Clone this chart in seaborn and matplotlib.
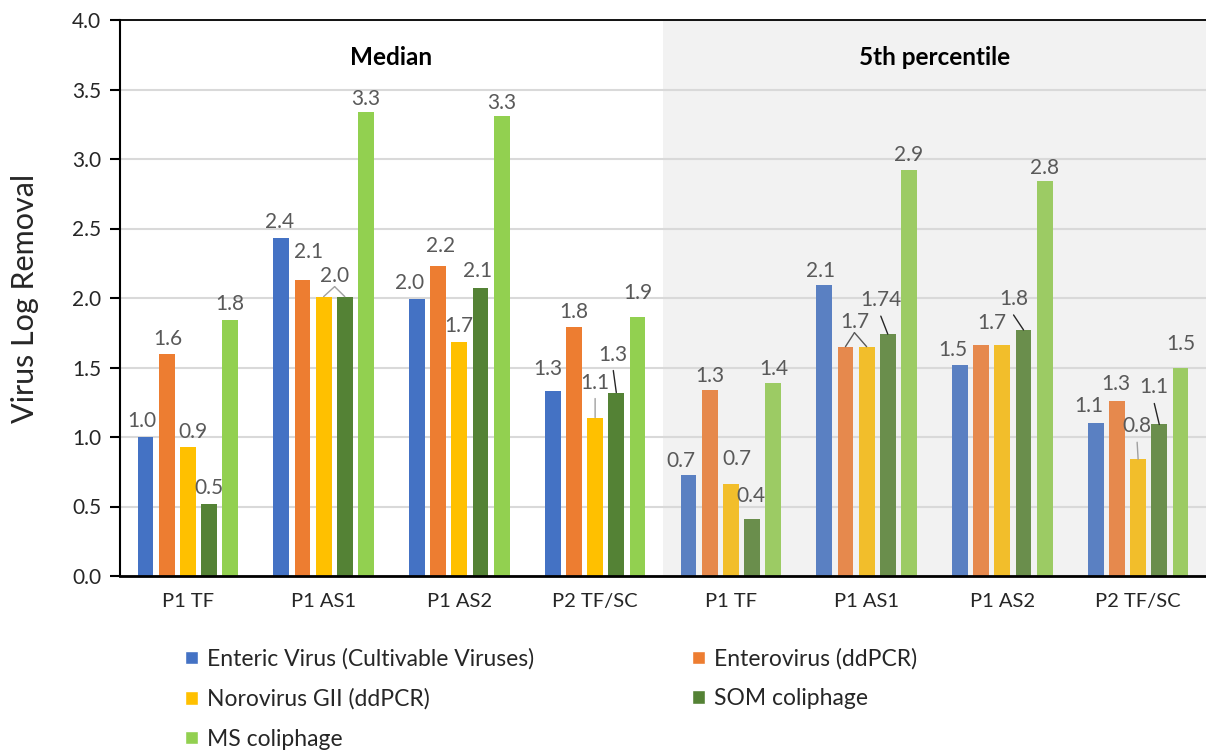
import numpy as np
import pandas as pd
import matplotlib
matplotlib.use("Agg")
import matplotlib.pyplot as plt
import seaborn as sns
from matplotlib.patches import Patch
from matplotlib.transforms import offset_copy

# Data
sites = ["P1 TF", "P1 AS1", "P1 AS2", "P2 TF/SC"]
panels = ["Median", "5th percentile"]

viruses = [
    "Enteric Virus (Cultivable Viruses)",
    "Enterovirus (ddPCR)",
    "Norovirus GII (ddPCR)",
    "SOM coliphage",
    "MS coliphage",
]

# first 4 = Median, last 4 = 5th percentile
enteric = [1.00, 2.43, 1.99, 1.33, 0.73, 2.09, 1.52, 1.10]
entero = [1.60, 2.13, 2.23, 1.79, 1.34, 1.65, 1.66, 1.26]
noro = [0.93, 2.01, 1.68, 1.14, 0.66, 1.65, 1.66, 0.84]
som = [0.52, 2.01, 2.07, 1.32, 0.41, 1.74, 1.77, 1.09]
ms = [1.84, 3.34, 3.31, 1.86, 1.39, 2.92, 2.84, 1.50]

enteric_lbl = ["1.0", "2.4", "2.0", "1.3", "0.7", "2.1", "1.5", "1.1"]
entero_lbl = ["1.6", "2.1", "2.2", "1.8", "1.3", "1.7", "1.7", "1.3"]
noro_lbl = ["0.9", "2.0", "1.7", "1.1", "0.7", "", "", "0.8"]
som_lbl = ["0.5", "", "2.1", "1.3", "0.4", "1.74", "1.8", "1.1"]
ms_lbl = ["1.8", "3.3", "3.3", "1.9", "1.4", "2.9", "2.8", "1.5"]

colors_median = ["#4472C4", "#ED7D31", "#FFC000", "#548235", "#92D050"]
colors_5th = ["#5A80C2", "#E6894D", "#F2BE2B", "#6A8E4C", "#9CCB64"]

# label offsets in pixels (dx, dy) of the text baseline from the bar top
offsets = [
    [(-4, 10), (-2, 10), (-7, 10), (-5, 16), (-8, 8), (-4, 8), (-7, 9), (-7, 11)],
    [(1, 9), (6, 22), (2, 14), (0, 9), (0, 8), (9, 19), (11, 16), (-1, 11)],
    [(5, 9), (11, 15), (-1, 10), (0, 29), (6, 19), (0, 0), (0, 0), (-1, 27)],
    [(0, 10), (0, 0), (-3, 11), (-3, 32), (-1, 17), (-7, 28), (-10, 25), (-5, 31)],
    [(0, 10), (0, 7), (0, 7), (0, 18), (1, 8), (0, 9), (0, 7), (0, 18)],
]
leaders = {
    (1, 5): "caret", (2, 1): "caret",
    (2, 3): "line", (2, 7): "line",
    (3, 3): "line", (3, 5): "line", (3, 6): "line", (3, 7): "line",
}
leader_colors = ["#595959", "#595959", "#A0A0A0", "#262626", "#595959"]

slots = [p + "|" + s for p in panels for s in sites]
values = [enteric, entero, noro, som, ms]
labels = [enteric_lbl, entero_lbl, noro_lbl, som_lbl, ms_lbl]

rows = []
for v, vals in zip(viruses, values):
    for slot, val in zip(slots, vals):
        rows.append({"slot": slot, "virus": v, "value": val})
df = pd.DataFrame(rows)

sns.set_style("white")
plt.rcParams["font.family"] = ["Lato", "DejaVu Sans"]

fig = plt.figure(figsize=(12.06, 7.56), dpi=100)
ax = fig.add_axes([120 / 1206, 1 - 576 / 756, 1086 / 1206, 556 / 756])

sns.barplot(
    data=df,
    x="slot",
    y="value",
    hue="virus",
    order=slots,
    hue_order=viruses,
    palette=colors_median,
    saturation=1,
    errorbar=None,
    width=0.78,
    gap=0.25,
    linewidth=0,
    legend=False,
    ax=ax,
)

# muted colours for the 5th percentile half
for cont, c5 in zip(ax.containers, colors_5th):
    for i, bar in enumerate(cont):
        if i >= 4:
            bar.set_facecolor(c5)

ax.axvspan(3.5, 7.5, color="#F2F2F2", zorder=0, lw=0)
ax.set_xlim(-0.5, 7.5)
ax.set_ylim(0, 4)
yt = np.arange(0, 4.01, 0.5)
ax.set_yticks(yt)
ax.set_yticklabels([f"{t:.1f}" for t in yt])
ax.set_xticks(range(8))
ax.set_xticklabels(sites * 2)
ax.set_xlabel("")
ax.set_ylabel("Virus Log Removal", fontsize=22, color="#262626")
ax.yaxis.set_label_coords(-0.075, 0.5)

ax.set_axisbelow(True)
ax.yaxis.grid(True, color="#D9D9D9", lw=1.5)
ax.xaxis.grid(False)
ax.tick_params(axis="y", direction="out", length=7.5, width=1.5, color="black",
               labelsize=15, labelcolor="#262626", pad=6, left=True)
ax.tick_params(axis="x", length=0, labelsize=14.5, labelcolor="#262626", pad=12)

for side in ["left", "bottom", "top"]:
    ax.spines[side].set_visible(True)
    ax.spines[side].set_color("black")
ax.spines["left"].set_linewidth(1.5)
ax.spines["bottom"].set_linewidth(2)
ax.spines["top"].set_linewidth(1.3)
ax.spines["right"].set_visible(False)

# panel titles
for k, p in enumerate(panels):
    ax.text(1.5 + 4 * k, 0.932, p, transform=ax.get_xaxis_transform(),
            ha="center", va="center", fontsize=17.5, fontweight="bold", color="black")

# data labels and leader lines
for s, cont in enumerate(ax.containers):
    for i, bar in enumerate(cont):
        text = labels[s][i]
        if not text:
            continue
        x = bar.get_x() + bar.get_width() / 2
        y = bar.get_height()
        dx, dy = offsets[s][i]
        ax.annotate(text, (x, y), xytext=(dx, dy), textcoords="offset pixels",
                    ha="center", va="baseline", fontsize=15, color="#595959")
        kind = leaders.get((s, i))
        if not kind:
            continue
        targets = [bar]
        gap = 10
        if kind == "caret":
            targets.append(ax.containers[s + 1][i])
            gap = 5
        start = offset_copy(ax.transData, fig=fig, x=dx, y=dy - gap, units="dots")
        for tb in targets:
            ax.annotate("", (tb.get_x() + tb.get_width() / 2, tb.get_height()),
                        xytext=(x, y), textcoords=start,
                        arrowprops=dict(arrowstyle="-", color=leader_colors[s], lw=1,
                                        shrinkA=0, shrinkB=0))

# legend, row-major order like the original
order = [0, 2, 4, 1, 3]
handles = [Patch(facecolor=colors_median[k], label=viruses[k]) for k in order]
fig.legend(handles=handles, loc="upper left", bbox_to_anchor=(185 / 1206, 1 - 648 / 756),
           ncol=2, frameon=False, fontsize=16.5, handlelength=0.55, handleheight=0.55,
           handletextpad=0.4, columnspacing=6.9, labelspacing=0.82,
           borderpad=0, borderaxespad=0, labelcolor="#262626")

fig.savefig("out.png", dpi=100)
plt.close(fig)
